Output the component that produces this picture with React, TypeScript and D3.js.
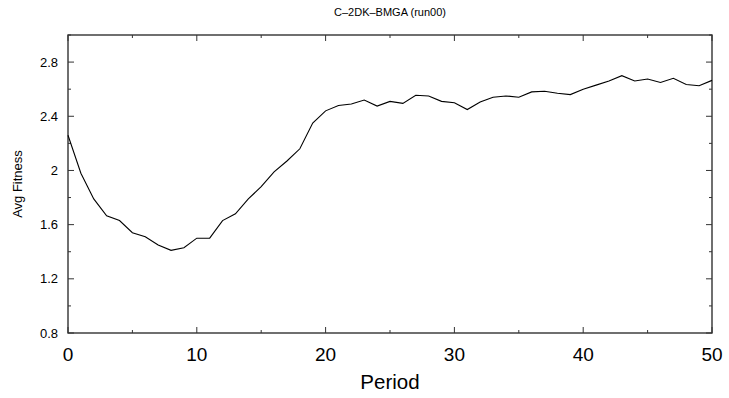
import React from "react";
import * as d3 from "d3";

const periods: number[] = Array.from({ length: 51 }, (_, i) => i);
const fitness: number[] = [
  2.26, 1.98, 1.79, 1.665, 1.63, 1.54, 1.51, 1.45, 1.41, 1.43,
  1.50, 1.50, 1.63, 1.68, 1.79, 1.88, 1.99, 2.07, 2.16, 2.35,
  2.44, 2.48, 2.49, 2.52, 2.475, 2.51, 2.495, 2.555, 2.55, 2.51,
  2.50, 2.45, 2.505, 2.54, 2.55, 2.54, 2.58, 2.585, 2.57, 2.56,
  2.60, 2.63, 2.66, 2.70, 2.66, 2.675, 2.65, 2.68, 2.635, 2.625,
  2.665,
];
const xMajorTicks = [0, 10, 20, 30, 40, 50];
const xMinorTicks = [5, 15, 25, 35, 45];
const yMajorTicks = [0.8, 1.2, 1.6, 2.0, 2.4, 2.8];
const yMinorTicks = [1.0, 1.4, 1.8, 2.2, 2.6, 3.0];
const yTickLabels = ["0.8", "1.2", "1.6", "2", "2.4", "2.8"];

export default function App() {
  const W = 729, H = 398;
  const left = 68, right = 712, top = 35, bottom = 333;
  const x = d3.scaleLinear().domain([0, 50]).range([left, right]);
  const y = d3.scaleLinear().domain([0.8, 3.0]).range([bottom, top]);
  const line = d3.line<number>().x((_, i) => x(periods[i])).y((d) => y(d));
  const font = "Liberation Sans, Arial, sans-serif";
  const axisColor = "#333";
  const maj = 6, min = 3;
  return (
    <svg width={W} height={H} style={{ position: "absolute", left: 0, top: 0, background: "#fff" }}>
      <text x={390} y={16} textAnchor="middle" fontFamily={font} fontSize={11} fill="#000">
        C–2DK–BMGA (run00)
      </text>
      <rect x={left} y={top} width={right - left} height={bottom - top} fill="none" stroke={axisColor} strokeWidth={1.4} />
      {xMajorTicks.map((t) => (
        <g key={"xm" + t}>
          <line x1={x(t)} x2={x(t)} y1={bottom} y2={bottom - maj} stroke={axisColor} />
          <line x1={x(t)} x2={x(t)} y1={top} y2={top + maj} stroke={axisColor} />
          <text x={x(t)} y={361} textAnchor="middle" fontFamily={font} fontSize={19} fill="#000">{t}</text>
        </g>
      ))}
      {xMinorTicks.map((t) => (
        <g key={"xn" + t}>
          <line x1={x(t)} x2={x(t)} y1={bottom} y2={bottom - min} stroke={axisColor} />
          <line x1={x(t)} x2={x(t)} y1={top} y2={top + min} stroke={axisColor} />
        </g>
      ))}
      {yMajorTicks.map((t, i) => (
        <g key={"ym" + t}>
          <line x1={left} x2={left + maj} y1={y(t)} y2={y(t)} stroke={axisColor} />
          <line x1={right} x2={right - maj} y1={y(t)} y2={y(t)} stroke={axisColor} />
          <text x={58} y={y(t) + 4.5} textAnchor="end" fontFamily={font} fontSize={13} fill="#000">{yTickLabels[i]}</text>
        </g>
      ))}
      {yMinorTicks.map((t) => (
        <g key={"yn" + t}>
          <line x1={left} x2={left + min} y1={y(t)} y2={y(t)} stroke={axisColor} />
          <line x1={right} x2={right - min} y1={y(t)} y2={y(t)} stroke={axisColor} />
        </g>
      ))}
      <text x={390} y={389} textAnchor="middle" fontFamily={font} fontSize={20.5} fill="#000">Period</text>
      <text transform={`translate(22,${(top + bottom) / 2}) rotate(-90)`} textAnchor="middle" fontFamily={font} fontSize={13} fill="#000">
        Avg Fitness
      </text>
      <path d={line(fitness) || ""} fill="none" stroke="#000" strokeWidth={1.1} />
    </svg>
  );
}
